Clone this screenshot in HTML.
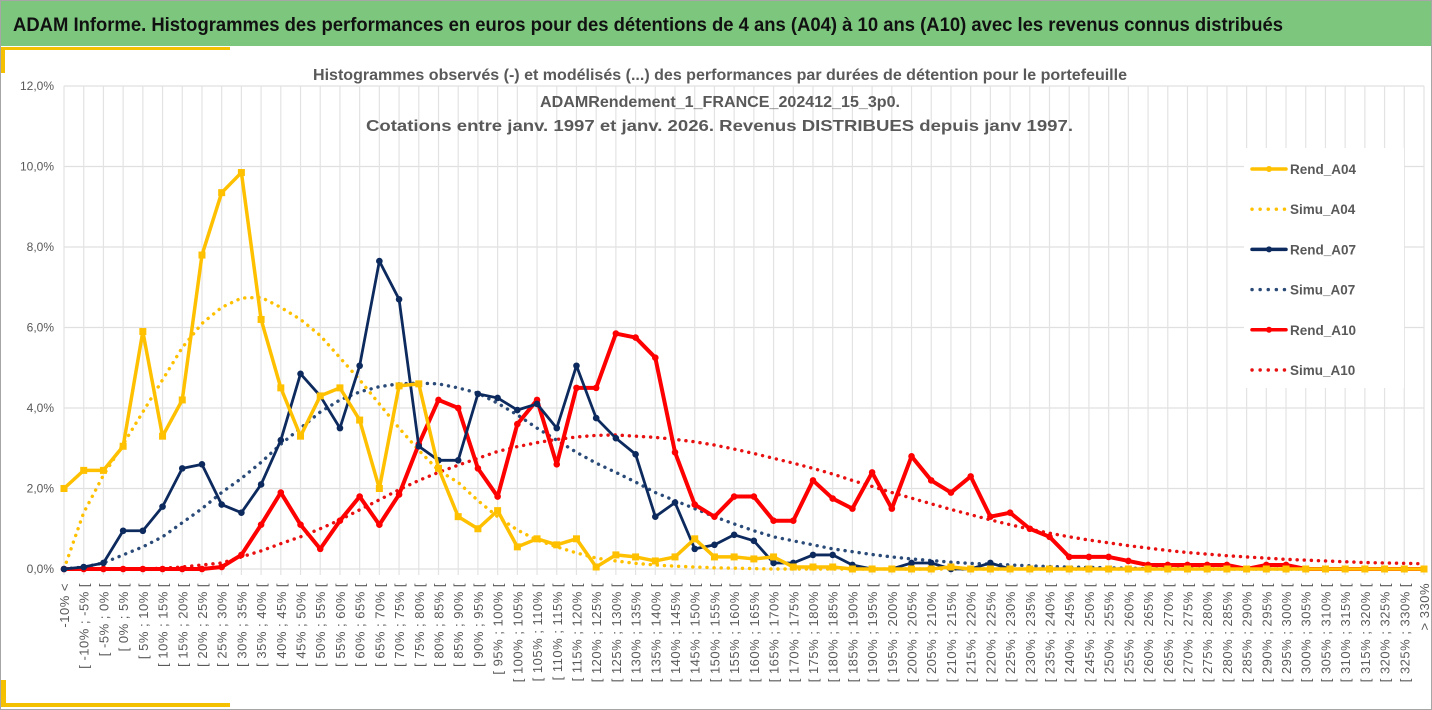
<!DOCTYPE html>
<html><head><meta charset="utf-8"><style>
html,body{margin:0;padding:0;background:#fff;}
svg{display:block;font-family:"Liberation Sans",sans-serif;}
</style></head><body>
<svg id="c" width="1432" height="710" viewBox="0 0 1432 710">
<rect x="0.5" y="0.5" width="1431" height="709" fill="#fff" stroke="#a6a6a6"/>
<rect x="1" y="1" width="1430" height="45" fill="#7dc67e"/>
<text x="13" y="31" font-size="19" font-weight="bold" fill="#111" textLength="1270" lengthAdjust="spacingAndGlyphs">ADAM Informe. Histogrammes des performances en euros pour des détentions de 4 ans (A04) à 10 ans (A10) avec les revenus connus distribués</text>
<rect x="4" y="47" width="226" height="3" fill="#f5c000"/>
<rect x="1" y="47" width="4" height="26" fill="#f5c000"/>
<rect x="2" y="703" width="228" height="4" fill="#f5c000"/>
<rect x="1" y="680" width="5" height="27" fill="#f5c000"/>
<g id="grid"></g>
<g id="series"></g>
<g id="xlabels"></g>
<g id="ylabels"></g>
<g font-weight="bold" fill="#595959" font-size="16">
<text x="313" y="80" textLength="814" lengthAdjust="spacingAndGlyphs">Histogrammes observés (-) et modélisés (...) des performances par durées de détention pour le portefeuille</text>
<text x="540" y="107" textLength="360" lengthAdjust="spacingAndGlyphs">ADAMRendement_1_FRANCE_202412_15_3p0.</text>
<text x="366" y="131" textLength="707" lengthAdjust="spacingAndGlyphs">Cotations  entre janv. 1997 et janv. 2026. Revenus DISTRIBUES depuis janv 1997.</text>
</g>
<g id="legend"></g>
</svg>
<script>
const categories = ["-10% <"];
for (let a = -10; a < 330; a += 5) categories.push("[ " + a + "% ; " + (a + 5) + "% [");
categories.push("> 330%");
const yTicks = [0, 2, 4, 6, 8, 10, 12];
const rendA04 = [2.0,2.45,2.45,3.05,5.9,3.3,4.2,7.8,9.35,9.85,6.2,4.5,3.3,4.3,4.5,3.7,2.0,4.55,4.6,2.5,1.3,1.0,1.45,0.55,0.75,0.6,0.75,0.05,0.35,0.3,0.2,0.3,0.75,0.3,0.3,0.25,0.3,0.05,0.05,0.05,0,0,0,0,0,0.05,0,0,0,0,0,0,0,0,0,0,0,0,0,0,0,0,0,0,0,0,0,0,0,0];
const simuA04 = [0,1.4,2.33,3.1,3.9,4.7,5.5,6.1,6.5,6.73,6.75,6.5,6.2,5.8,5.25,4.7,4.1,3.5,2.95,2.45,2.15,1.7,1.3,0.97,0.72,0.55,0.4,0.27,0.2,0.14,0.1,0.07,0.05,0.03,0.02,0.01,0,0,0,0,0,0,0,0,0,0,0,0,0,0,0,0,0,0,0,0,0,0,0,0,0,0,0,0,0,0,0,0,0,0];
const rendA07 = [0,0.05,0.15,0.95,0.95,1.55,2.5,2.6,1.6,1.4,2.1,3.2,4.85,4.3,3.5,5.05,7.65,6.7,3.05,2.7,2.7,4.35,4.25,3.95,4.1,3.5,5.05,3.75,3.25,2.85,1.3,1.65,0.5,0.6,0.85,0.7,0.15,0.15,0.35,0.35,0.1,0,0,0.15,0.15,0,0,0.15,0,0,0,0,0,0,0,0,0,0,0,0,0,0,0,0,0,0,0,0,0,0];
const simuA07 = [0,0.05,0.15,0.35,0.55,0.8,1.15,1.5,1.9,2.25,2.65,3.1,3.5,3.9,4.2,4.4,4.53,4.6,4.62,4.6,4.5,4.37,4.12,3.83,3.5,3.2,2.9,2.63,2.4,2.16,1.9,1.7,1.5,1.3,1.12,0.95,0.8,0.7,0.6,0.5,0.43,0.36,0.3,0.25,0.21,0.17,0.14,0.12,0.1,0.08,0.06,0.05,0.04,0.03,0.02,0.01,0.01,0.01,0,0,0,0,0,0,0,0,0,0,0,0];
const rendA10 = [0,0,0,0,0,0,0,0,0.05,0.35,1.1,1.9,1.1,0.5,1.2,1.8,1.1,1.85,3.1,4.2,4.0,2.5,1.8,3.6,4.2,2.6,4.5,4.5,5.85,5.75,5.25,2.9,1.6,1.3,1.8,1.8,1.2,1.2,2.2,1.75,1.5,2.4,1.5,2.8,2.2,1.9,2.3,1.3,1.4,1.0,0.8,0.3,0.3,0.3,0.2,0.1,0.1,0.1,0.1,0.1,0,0.1,0.1,0,0,0,0,0,0,0];
const simuA10 = [0,0,0,0,0,0.02,0.05,0.1,0.15,0.3,0.45,0.63,0.8,1.0,1.22,1.47,1.72,1.97,2.2,2.4,2.58,2.75,2.92,3.04,3.14,3.22,3.28,3.32,3.33,3.3,3.27,3.22,3.16,3.08,2.98,2.87,2.75,2.63,2.5,2.36,2.2,2.05,1.9,1.76,1.62,1.48,1.35,1.22,1.1,0.99,0.89,0.8,0.72,0.65,0.58,0.52,0.46,0.41,0.37,0.33,0.3,0.27,0.24,0.22,0.2,0.18,0.16,0.15,0.14,0.13];

const NS = "http://www.w3.org/2000/svg";
const X0 = 64, X1 = 1424, Y0 = 569, Y1 = 86, YMAX = 12;
const xs = i => X0 + (X1 - X0) * i / (categories.length - 1);
const ys = v => Y0 - (Y0 - Y1) * v / YMAX;
function mk(tag, attrs, parent) { const e = document.createElementNS(NS, tag); for (const k in attrs) e.setAttribute(k, attrs[k]); parent.appendChild(e); return e; }

const grid = document.getElementById("grid");
yTicks.forEach(t => {
  const l = mk("line", {x1: X0, x2: X1, y1: ys(t), y2: ys(t), stroke: "#e0e0e0", "stroke-width": 1.3}, grid);
  
  
});
categories.forEach((c, i) => {
  const l = mk("line", {x1: xs(i), x2: xs(i), y1: Y1, y2: Y0 + 6, stroke: "#e3e3e3", "stroke-width": 1.2}, grid);
  
  
});

const yl = document.getElementById("ylabels");
yTicks.forEach(t => {
  const tx = mk("text", {x: 54, y: ys(t) + 4, "text-anchor": "end", "font-size": 12, fill: "#595959"}, yl);
  tx.textContent = t.toFixed(1).replace(".", ",") + "%";
  
  
});

const xl = document.getElementById("xlabels");
categories.forEach((c, i) => {
  const tx = mk("text", {x: 0, y: 0, "text-anchor": "end", "font-size": 13, fill: "#595959", "letter-spacing": 0.5, transform: "translate(" + (xs(i) + 5) + ",583) rotate(-90)"}, xl);
  tx.textContent = c;
  
  
});

const sg = document.getElementById("series");
function drawSolid(vals, color, name, square) {
  const p = mk("polyline", {points: vals.map((v, i) => xs(i) + "," + ys(v)).join(" "), fill: "none", stroke: color, "stroke-width": square ? 3.5 : (color === "#ff0000" ? 4 : 2.8), "stroke-linejoin": "round"}, sg);
  
  
  vals.forEach((v, i) => {
    let m;
    if (square) m = mk("rect", {x: xs(i) - 3.5, y: ys(v) - 3.5, width: 7, height: 7, fill: color}, sg);
    else m = mk("circle", {cx: xs(i), cy: ys(v), r: 3.3, fill: color}, sg);
    
    
  });
}
function drawDotted(vals, color, name) {
  const p = mk("polyline", {points: vals.map((v, i) => xs(i) + "," + ys(v)).join(" "), fill: "none", stroke: color, "stroke-width": 3.4, "stroke-dasharray": "0.1 7", "stroke-linecap": "round"}, sg);
  
  
}
drawDotted(simuA10, "#e81010", "simu-a10");
drawDotted(simuA07, "#2a4a78", "simu-a07");
drawDotted(simuA04, "#ffc000", "simu-a04");
drawSolid(rendA10, "#ff0000", "rend-a10", false);
drawSolid(rendA07, "#0d2a5e", "rend-a07", false);
drawSolid(rendA04, "#ffc000", "rend-a04", true);

const lg = document.getElementById("legend");
const lb = mk("rect", {x: 1244, y: 148, width: 160, height: 240, fill: "#fff"}, lg);


const legendNames = ["Rend_A04", "Simu_A04", "Rend_A07", "Simu_A07", "Rend_A10", "Simu_A10"];
const legendColors = ["#ffc000", "#ffc000", "#0d2a5e", "#2a4a78", "#ff0000", "#e81010"];
legendNames.forEach((n, k) => {
  const y = 169 + k * 40.2;
  const dotted = n.startsWith("Simu");
  const l = mk("line", {x1: 1252, x2: 1286, y1: y, y2: y, stroke: legendColors[k], "stroke-width": dotted ? 3.4 : 3.5, "stroke-dasharray": dotted ? "0.1 8" : "none", "stroke-linecap": "round"}, lg);
  
  
  if (!dotted) {
    const m = mk("circle", {cx: 1269, cy: y, r: 3, fill: legendColors[k]}, lg);
    
    
  }
  const t = mk("text", {x: 1290, y: y + 5, "font-size": 13.5, "font-weight": "bold", fill: "#595959"}, lg);
  t.textContent = n;
  
  
});
</script>
</body></html>
